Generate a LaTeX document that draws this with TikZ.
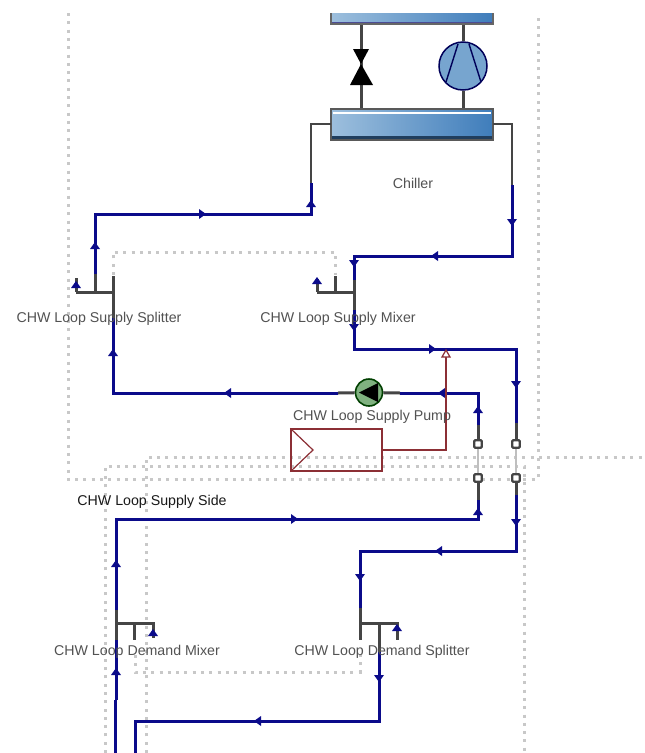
\documentclass[tikz,border=0pt]{standalone}
\usepackage{fontspec}
\setmainfont{Liberation Sans}
\usetikzlibrary{calc}
\definecolor{navy}{HTML}{0B0B8A}
\definecolor{pipegrey}{HTML}{454545}
\definecolor{ctrlred}{HTML}{8C2F35}
\definecolor{dotgrey}{HTML}{C8C8C8}
\definecolor{hxlight}{HTML}{9DBFDD}
\definecolor{hxdark}{HTML}{3F7DBB}
\tikzset{
  x=1pt,y=-1pt,
  pipeblue/.style={draw=navy,line width=3pt,line join=miter},
  pipedark/.style={draw=pipegrey,line width=3pt,line join=miter},
  pipethin/.style={draw=pipegrey,line width=2pt,line join=miter},
  bypass/.style={draw=black!25,line width=2.6pt},
  boundary/.style={draw=dotgrey,line width=3pt,dash pattern=on 3pt off 5.3pt},
  ctrl/.style={draw=ctrlred,line width=1.2pt},
  lbl/.style={font=\fontsize{14.2}{16}\selectfont,text=black!68,inner sep=0pt},
  lblb/.style={font=\fontsize{14.2}{16}\selectfont,text=black!90,inner sep=0pt},
  port/.style={draw=pipegrey,fill=white,line width=2.2pt,minimum size=7.5pt,inner sep=0pt,rounded corners=1pt},
  pumpbody/.style={circle,draw=green!25!black,line width=1.6pt,fill=green!40!black!50,minimum size=27pt,inner sep=0pt},
}
\newcommand{\flowtip}[3]{\fill[navy,shift={(#1,#2)},rotate=#3] (4,0) -- (-3,-5) -- (-3,5) -- cycle;}
\begin{document}
\begin{tikzpicture}
\useasboundingbox (0,0) rectangle (645,753);
\fill[white] (0,0) rectangle (645,753);
\clip (0,0) rectangle (645,753);

% boundaries
\draw[boundary] (68,13) -- (68,479) -- (538,479) -- (538,13);
\draw[boundary] (105,753) -- (105,466) -- (524,466) -- (524,753);
\draw[boundary] (146,753) -- (146,457) -- (645,457);
\draw[boundary] (113,275) -- (113,252) -- (335,252) -- (335,275);
\draw[boundary] (135,655) -- (135,672) -- (360,672) -- (360,655);

% chiller coordinates
\node[inner sep=0pt,minimum width=162pt,minimum height=30pt] (evap) at (412,124.5) {};
\coordinate (condBL) at (331,24);
\coordinate (condBR) at (493,24);
\coordinate (condTL) at (331,13);
\coordinate (condTR) at (493,13);
\coordinate (vT) at (361,24);
\coordinate (vB) at (361,110);
\coordinate (cT) at (463,24);
\coordinate (cB) at (463,110);
\node[circle,draw=black!65!blue,line width=1.5pt,fill=hxlight!60!hxdark,minimum size=48pt,inner sep=0pt] (comp) at (463,66) {};
\draw[pipedark] (vT) -- (vB);
\draw[pipedark] (cT) -- (comp.north);
\draw[pipedark] (comp.south) -- (cB);
\begin{scope}
\clip (comp.center) circle (23.5);
\draw[line width=1.4pt,black!65!blue] (458,44) -- (446,82);
\draw[line width=1.4pt,black!65!blue] (469,44) -- (481,82);
\end{scope}
\fill[black] (353,49) -- (369,49) -- (361,64) -- cycle;
\fill[black] (361,64) -- (373,85) -- (350,85) -- cycle;
% heat exchangers
\shade[left color=hxlight,right color=hxdark] (condTL) rectangle (condBR);
\fill[black!60!blue!70!white] ($(condBL)+(0,-2)$) rectangle (condBR);
\draw[black!60,line width=1.8pt] (condTL) -- (condBL) -- (condBR) -- (condTR);
\shade[left color=hxlight,right color=hxdark,draw=black!65,line width=1.8pt] (evap.north west) rectangle (evap.south east);
\fill[white] ($(evap.north west)+(2,3)$) rectangle ($(evap.north east)+(-2,5)$);
\fill[black!50!hxdark] ($(evap.south west)+(1,-4)$) rectangle ($(evap.south east)+(-1,-1)$);

% coordinates of the pipes
\coordinate (chL) at (311,124);
\coordinate (chLb) at (311,183);
\coordinate (chLc) at (311,214);
\coordinate (chR) at (512,124);
\coordinate (chRb) at (512,185);
\coordinate (chRc) at (512,256);
\coordinate (mxT) at (354,256);
\coordinate (mxA) at (354,280);
\coordinate (mxH) at (354,292);
\coordinate (mxB) at (354,310);
\coordinate (mxC) at (354,349);
\coordinate (byT) at (516,349);
\coordinate (byA) at (516,423);
\coordinate (spA) at (95,214);
\coordinate (spB) at (95,274);
\coordinate (spH) at (95,292);
\coordinate (spC) at (113,292);
\coordinate (spD) at (113,276);
\coordinate (spE) at (113,318);
\coordinate (spF) at (113,393);
\coordinate (spG) at (76,292);
\coordinate (spS) at (76,278);
\coordinate (mxG) at (317,292);
\coordinate (mxS) at (317,279);
\coordinate (mxI) at (335,292);
\coordinate (mxJ) at (335,276);
\coordinate (puL) at (338,393);
\coordinate (puR) at (400,393);
\coordinate (suR) at (478,393);
\coordinate (suA) at (478,425);
\coordinate (suB) at (478,500);
\coordinate (suC) at (478,519);
\coordinate (dmA) at (116,519);
\coordinate (dmB) at (116,610);
\coordinate (dmH) at (116,623);
\coordinate (dmC) at (116,640);
\coordinate (dmD) at (116,700);
\coordinate (dmE) at (115,700);
\coordinate (dmF) at (115,753);
\coordinate (dmG) at (134,623);
\coordinate (dmI) at (134,640);
\coordinate (dmJ) at (153,623);
\coordinate (dmK) at (153,638);
\coordinate (byB) at (516,495);
\coordinate (byC) at (516,551);
\coordinate (dsA) at (360,551);
\coordinate (dsB) at (360,608);
\coordinate (dsH) at (360,623);
\coordinate (dsC) at (360,640);
\coordinate (dsD) at (379,623);
\coordinate (dsE) at (379,652);
\coordinate (dsF) at (379,721);
\coordinate (dsG) at (397,623);
\coordinate (dsI) at (397,640);
\coordinate (rtA) at (135,721);
\coordinate (rtB) at (135,753);

% pump and bypass ports
\node[pumpbody] (pump) at (369,392.5) {};
\node[port] (p1) at (478,444) {};
\node[port] (p2) at (516,444) {};
\node[port] (p3) at (478,478) {};
\node[port] (p4) at (516,478) {};
\draw[bypass] (p1) -- (p3);
\draw[bypass] (p2) -- (p4);

% grey pipe ends
\draw[pipethin] (evap.west |- chL) -- (chL) -- (chLb);
\draw[pipethin] (evap.east |- chR) -- (chR) -- (chRb);
\draw[pipedark] (spG) -- (spC);
\draw[pipedark] (spS) -- (spG);
\draw[pipedark] (spD) -- (spE);
\draw[pipedark] (spB) -- (spH);
\draw[pipedark] (mxG) -- (mxH);
\draw[pipedark] (mxS) -- (mxG);
\draw[pipedark] (mxI) -- (mxJ);
\draw[pipedark] (mxA) -- (mxB);
\draw[pipedark] (puL) -- (pump);
\draw[pipedark] (pump) -- (puR);
\draw[pipedark] (suA) -- (p1);
\draw[pipedark] (p3) -- (suB);
\draw[pipedark] (byA) -- (p2);
\draw[pipedark] (p4) -- (byB);
\draw[pipedark] (dmB) -- (dmC);
\draw[pipedark] (dmH) -- (dmJ) -- (dmK);
\draw[pipedark] (dmG) -- (dmI);
\draw[pipedark] (dsB) -- (dsC);
\draw[pipedark] (dsH) -- (dsG) -- (dsI);
\draw[pipedark] (dsD) -- (dsE);
\fill[black] (359,392.5) -- (378,383) -- (378,402) -- cycle;

% blue pipes
\draw[pipeblue] (chLb) -- (chLc) -- (spA) -- (spB);
\draw[pipeblue] (chRb) -- (chRc) -- (mxT) -- (mxA);
\draw[pipeblue] (mxB) -- (mxC) -- (byT) -- (byA);
\draw[pipeblue] (spE) -- (spF) -- (puL);
\draw[pipeblue] (puR) -- (suR) -- (suA);
\draw[pipeblue] (suB) -- (suC) -- (dmA) -- (dmB);
\draw[pipeblue] (dmC) -- (dmD);
\draw[pipeblue] (dmE) -- (dmF);
\draw[pipeblue] (byB) -- (byC) -- (dsA) -- (dsB);
\draw[pipeblue] (dsE) -- (dsF) -- (rtA) -- (rtB);

% flow tips
\flowtip{311}{204}{90}
\flowtip{512}{222}{-90}
\flowtip{202}{214}{0}
\flowtip{435}{256}{180}
\flowtip{354}{263}{-90}
\flowtip{354}{327}{-90}
\flowtip{95}{246}{90}
\flowtip{113}{353}{90}
\flowtip{228}{393}{180}
\flowtip{76}{285}{90}
\flowtip{317}{281}{90}
\flowtip{432}{349}{0}
\flowtip{516}{384}{-90}
\flowtip{442}{393}{180}
\flowtip{478}{410}{90}
\flowtip{478}{512}{90}
\flowtip{516}{522}{-90}
\flowtip{294}{519}{0}
\flowtip{116}{564}{90}
\flowtip{116}{672}{90}
\flowtip{153}{633}{90}
\flowtip{258}{721}{180}
\flowtip{439}{551}{180}
\flowtip{360}{577}{-90}
\flowtip{379}{678}{-90}
\flowtip{397}{628}{90}

% setpoint controller
\node[draw=ctrlred,line width=1.2pt,minimum width=91pt,minimum height=42pt,inner sep=0pt] (sensor) at (336.5,450) {};
\coordinate (sensorTip) at (313,450);
\draw[ctrl] (sensor.north west) -- (sensorTip) -- (sensor.south west);
\coordinate (ctA) at (446,450);
\coordinate (ctB) at (446,357);
\draw[ctrl] (sensor.east) -- (ctA) -- (ctB);
\draw[ctrl,fill=white] (ctB) -- (450,357) -- (446,350) -- (442,357) -- cycle;

% labels
\node[lbl] (lChiller) at (413,183.5) {Chiller};
\node[lbl] (lSplit) at (99,319) {CHW Loop Supply Splitter};
\node[lbl] (lMix) at (338,319) {CHW Loop Supply Mixer};
\node[lbl] (lPump) at (372,416.5) {CHW Loop Supply Pump};
\node[lblb] (lSide) at (152,501.5) {CHW Loop Supply Side};
\node[lbl] (lDMix) at (137,651.5) {CHW Loop Demand Mixer};
\node[lbl] (lDSplit) at (382,651.5) {CHW Loop Demand Splitter};
\end{tikzpicture}
\end{document}
